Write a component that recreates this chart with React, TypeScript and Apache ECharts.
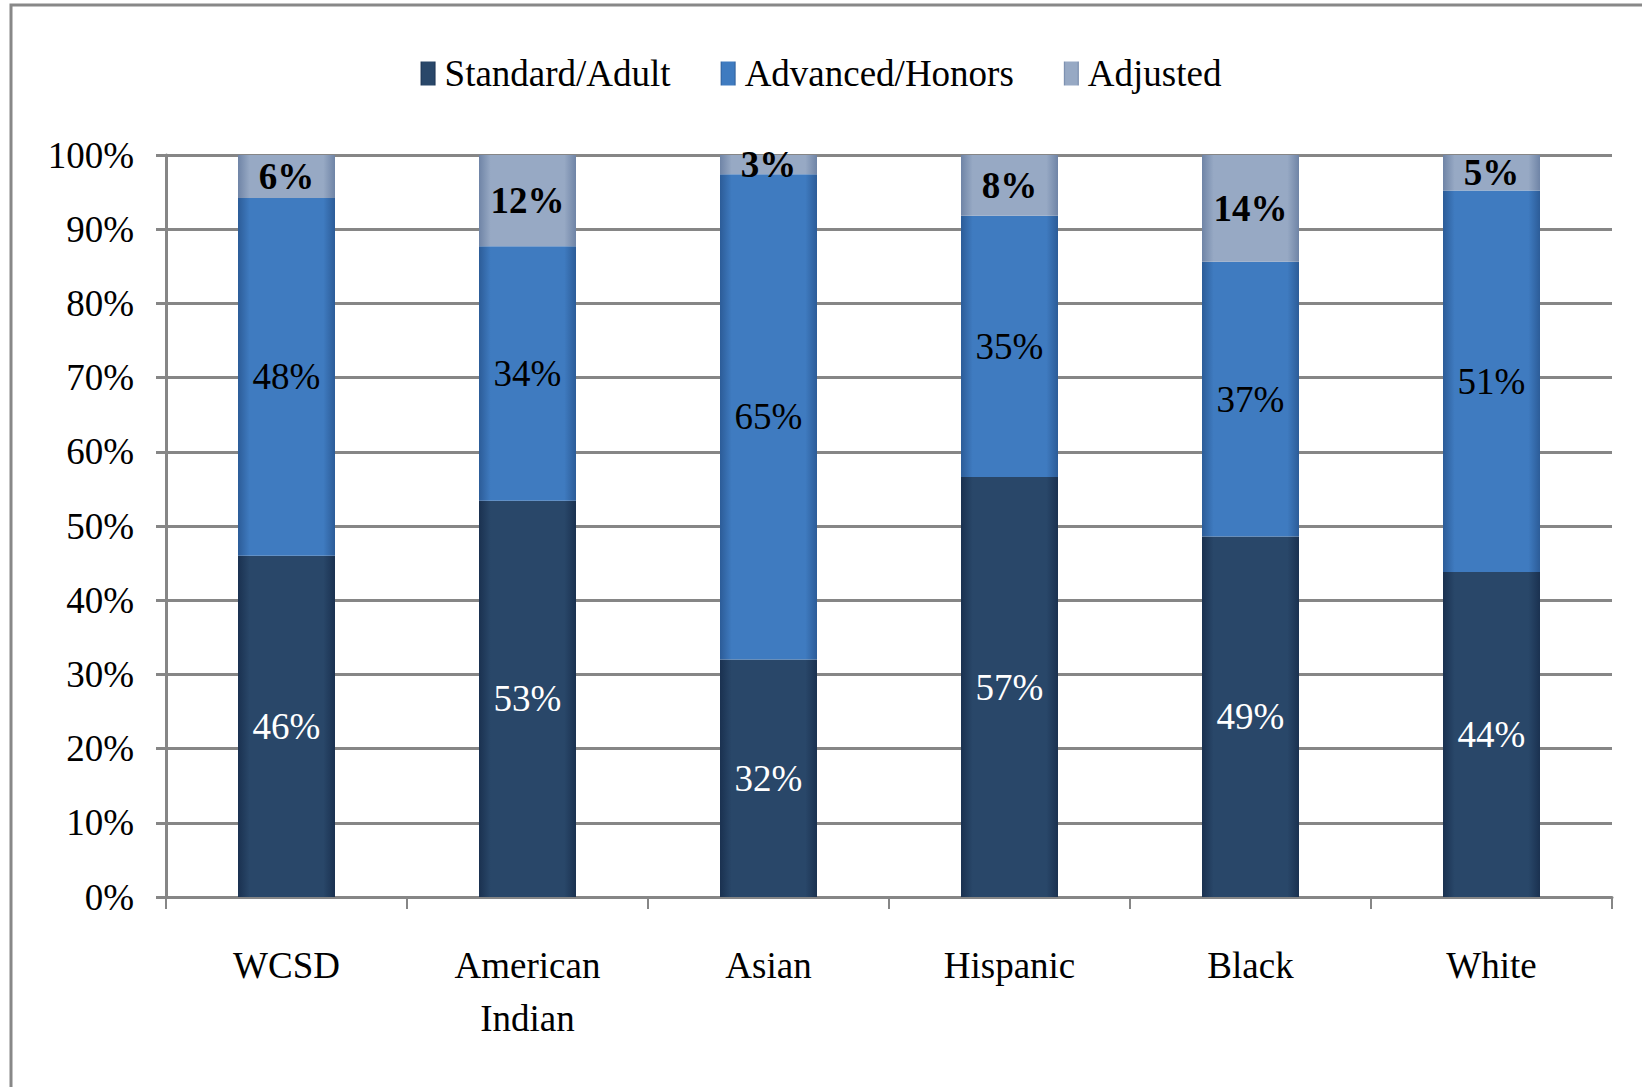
import React, { useEffect, useRef } from "react";
import * as echarts from "echarts";

const categories = ["WCSD", "American\nIndian", "Asian", "Hispanic", "Black", "White"];
const seriesNames = ["Standard/Adult", "Advanced/Honors", "Adjusted"];
const standardAdult = [46.0, 53.4, 32.0, 56.6, 48.6, 43.8];
const advancedHonors = [48.2, 34.3, 65.4, 35.2, 37.0, 51.4];
const adjusted = [5.8, 12.3, 2.6, 8.2, 14.4, 4.8];
const yTicks = [0, 10, 20, 30, 40, 50, 60, 70, 80, 90, 100];

const FONT = "'Liberation Serif', 'Times New Roman', serif";

function hGrad(edge: string, mid: string) {
  return new echarts.graphic.LinearGradient(0, 0, 1, 0, [
    { offset: 0, color: edge },
    { offset: 0.12, color: mid },
    { offset: 0.88, color: mid },
    { offset: 1, color: edge },
  ]);
}

export default function App() {
  const ref = useRef<HTMLDivElement>(null);
  useEffect(() => {
    if (!ref.current) return;
    const chart = echarts.init(ref.current, null, { renderer: "svg" });
    const fmt = (p: any) => `${Math.round(p.value)}%`;
    const colors = [
      hGrad("#1a3150", "#294769"),
      hGrad("#2c5c98", "#3f7bc0"),
      hGrad("#6f84a6", "#97a9c4"),
    ];
    const dataSets = [standardAdult, advancedHonors, adjusted];
    const labelStyles = [
      { color: "#ffffff", fontWeight: "normal" },
      { color: "#000000", fontWeight: "normal" },
      { color: "#000000", fontWeight: "bold" },
    ];
    chart.setOption({
      animation: false,
      backgroundColor: "#ffffff",
      textStyle: { fontFamily: FONT },
      graphic: [
        {
          type: "polyline",
          shape: { points: [[11, 1087], [11, 5], [1642, 5]] },
          style: { stroke: "#888888", lineWidth: 3, fill: "none" },
          silent: true,
        },
      ],
      legend: {
        top: 50,
        left: "center",
        itemWidth: 15,
        itemHeight: 24,
        itemGap: 50,
        icon: "rect",
        textStyle: { fontFamily: FONT, fontSize: 37, color: "#000", padding: [0, 0, 0, 4] },
        data: seriesNames,
      },
      grid: { left: 166, right: 30, top: 155, bottom: 190, containLabel: false },
      xAxis: {
        type: "category",
        data: categories,
        boundaryGap: true,
        axisLine: { show: true, lineStyle: { color: "#868686", width: 3 } },
        axisTick: { show: true, length: 12, alignWithLabel: false, lineStyle: { color: "#868686", width: 2 } },
        axisLabel: {
          fontFamily: FONT,
          fontSize: 37,
          color: "#000",
          margin: 42,
          lineHeight: 53,
          interval: 0,
        },
      },
      yAxis: {
        type: "value",
        min: yTicks[0],
        max: yTicks[yTicks.length - 1],
        interval: 10,
        axisLine: { show: true, lineStyle: { color: "#868686", width: 3 } },
        axisTick: { show: true, length: 10, lineStyle: { color: "#868686", width: 3 } },
        splitLine: { show: true, lineStyle: { color: "#868686", width: 3 } },
        axisLabel: {
          fontFamily: FONT,
          fontSize: 37,
          color: "#000",
          margin: 32,
          formatter: (v: number) => `${v}%`,
        },
      },
      series: seriesNames.map((name, i) => ({
        name,
        type: "bar",
        stack: "total",
        barWidth: 97,
        data: dataSets[i],
        itemStyle: {
          color: colors[i],
          borderWidth: 0,
        },
        label: {
          show: true,
          position: "inside",
          formatter: fmt,
          fontFamily: FONT,
          fontSize: 37,
          ...labelStyles[i],
        },
      })),
    });
    return () => chart.dispose();
  }, []);
  return <div ref={ref} style={{ width: 1642, height: 1087, position: "absolute", left: 0, top: 0 }} />;
}
